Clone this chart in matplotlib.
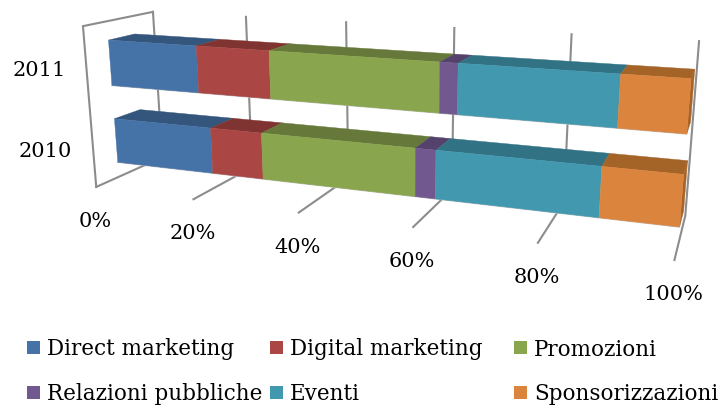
import numpy as np
import matplotlib
matplotlib.use("Agg")
import matplotlib.pyplot as plt
from matplotlib.patches import Polygon, Rectangle

categories = ["2010", "2011"]
series = ["Direct marketing", "Digital marketing", "Promozioni",
          "Relazioni pubbliche", "Eventi", "Sponsorizzazioni"]
direct_marketing = [20, 18]
digital_marketing = [10, 14]
promozioni = [28, 30]
relazioni_pubbliche = [3.5, 3]
eventi = [26.5, 25]
sponsorizzazioni = [12, 10]
tick_values = [0, 20, 40, 60, 80, 100]
tick_labels = ["0%", "20%", "40%", "60%", "80%", "100%"]

values = np.array([direct_marketing, digital_marketing, promozioni,
                   relazioni_pubbliche, eventi, sponsorizzazioni], float)

front = ["#4573A7", "#AA4644", "#89A54E", "#71588F", "#4198AF", "#DB843D"]
top = ["#34567D", "#803432", "#67793A", "#55426C", "#317284", "#A46327"]
SIDE = "#A86428"
GRID = "#8C8C8C"
FONT = dict(family="DejaVu Serif", color="black")

# Camera calibration: chart space (percent, height 0-1, depth 0-1) -> canvas pixels
calib = [
    ((0, 1, 1), (153, 12)), ((0, 1, 0), (84, 27)), ((0, 0, 0), (97, 187)),
    ((0, 0, 1), (163.5, 157)), ((20, 0, 0), (194, 200)), ((40, 0, 0), (299, 213)),
    ((60, 0, 0), (413, 227)), ((80, 0, 0), (538, 243)), ((100, 0, 0), (674, 261)),
    ((20, 1, 1), (246, 17)), ((40, 1, 1), (346, 23)), ((60, 1, 1), (454, 28)),
    ((80, 1, 1), (572, 35)), ((100, 1, 1), (699, 42)), ((100, 0, 1), (686, 217)),
    ((100, .38, .32), (683, 174)), ((100, .10, .32), (679, 226)),
    ((100, .38, .70), (687, 159)), ((100, .885, .32), (693, 77)),
    ((100, .595, .32), (687, 134)), ((100, .885, .70), (694, 69)),
    ((0, .38, .32), (114, 119)), ((0, .10, .32), (117, 162)),
    ((0, .38, .70), (139, 109)), ((0, .885, .32), (108, 40)),
    ((0, .595, .32), (111, 85)), ((0, .885, .70), (135, 33)),
]
A, b = [], []
for (u, v, w), (x, y) in calib:
    A.append([u, v, w, 1, 0, 0, 0, 0, -x * u, -x * v, -x * w]); b.append(x)
    A.append([0, 0, 0, 0, u, v, w, 1, -y * u, -y * v, -y * w]); b.append(y)
m = np.linalg.lstsq(np.array(A, float), np.array(b, float), rcond=None)[0]


def P(u, v, w):
    d = m[8] * u + m[9] * v + m[10] * w + 1
    return ((m[0] * u + m[1] * v + m[2] * w + m[3]) / d,
            (m[4] * u + m[5] * v + m[6] * w + m[7]) / d)


fig = plt.figure(figsize=(7.23, 4.08), dpi=100)
ax = fig.add_axes([0, 0, 1, 1])
ax.set_xlim(0, 723)
ax.set_ylim(408, 0)
ax.axis("off")

lw = 1.5
# back wall, side wall and floor lines
for t in tick_values:
    pts = [P(t, 1, 1), P(t, 0, 1), P(t, 0, 0)]
    ax.plot(*zip(*pts), color=GRID, lw=lw, solid_joinstyle="miter", zorder=1)
pts = [P(0, 1, 1), P(0, 1, 0), P(0, 0, 0)]
ax.plot(*zip(*pts), color=GRID, lw=lw, solid_joinstyle="miter", zorder=1)

# bars
centers = [0.24, 0.74]
half = 0.143
w0, w1 = 0.32, 0.70
for i, c in enumerate(centers):
    v0, v1 = c - half, c + half
    left = 0.0
    for s in range(len(series)):
        right = left + values[s, i]
        ax.add_patch(Polygon([P(left, v1, w0), P(right, v1, w0), P(right, v1, w1), P(left, v1, w1)],
                             fc=top[s], ec=top[s], lw=0.3, zorder=3))
        ax.add_patch(Polygon([P(left, v0, w0), P(right, v0, w0), P(right, v1, w0), P(left, v1, w0)],
                             fc=front[s], ec=front[s], lw=0.3, zorder=4))
        left = right
    ax.add_patch(Polygon([P(left, v0, w0), P(left, v1, w0), P(left, v1, w1), P(left, v0, w1)],
                         fc=SIDE, ec=SIDE, lw=0.3, zorder=2))
    ax.plot(*zip(P(0, v0, w0), P(left, v0, w0)), color="#C4C4C4", lw=1.0, zorder=2.5)

# axis labels
for t, lab in zip(tick_values, tick_labels):
    x, y = P(t, 0, 0)
    ax.text(x - 1, y + 34.5, lab, ha="center", va="center", fontsize=15, **FONT)
for c, lab in zip(centers, categories):
    x, y = P(0, c, 0)
    ax.text(x - 21, y + 1.5, lab, ha="right", va="center", fontsize=15, **FONT)

# legend
legend_x = [27, 270, 514]
legend_y = [347.5, 392]
for s, name in enumerate(series):
    col, row = s % 3, s // 3
    x, y = legend_x[col], legend_y[row]
    ax.add_patch(Rectangle((x, y - 6.5), 13, 13, fc=front[s], ec="none"))
    ax.text(x + 20, y + 8, name, ha="left", va="baseline", fontsize=15.5, **FONT)

fig.savefig("out.png", dpi=100)
